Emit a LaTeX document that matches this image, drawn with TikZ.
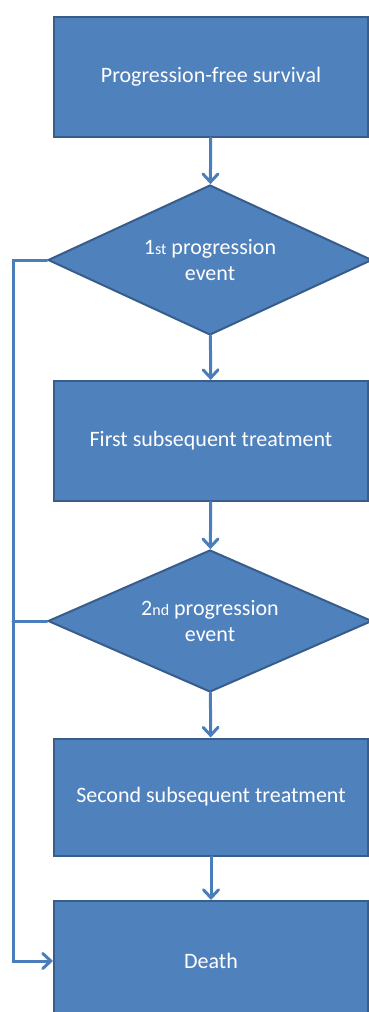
\documentclass[tikz,border=0pt]{standalone}
\usepackage{fontspec}
\setmainfont{Carlito}
\usetikzlibrary{shapes.geometric,arrows.meta}
\definecolor{boxblue}{HTML}{4F81BD}
\definecolor{boxedge}{HTML}{385D8A}
\definecolor{linkblue}{HTML}{4A7EBB}
\newcommand{\smallord}[1]{{\fontsize{16}{16}\selectfont #1}}
\begin{document}
\begin{tikzpicture}[x=1pt,y=-1pt,line cap=round,
  stepbox/.style={draw=boxedge,line width=2pt,fill=boxblue,text=white,minimum width=314pt,minimum height=120pt,font=\fontsize{22}{26.4}\selectfont},
  decision/.style={diamond,aspect=2.16,inner sep=0pt,draw=boxedge,line width=2pt,fill=boxblue,text=white,minimum width=324pt,minimum height=150pt,align=center,font=\fontsize{22}{26.4}\selectfont},
  link/.style={draw=linkblue,line width=3pt,-{Straight Barb[length=8pt,width=15pt,line cap=round]}}]
\useasboundingbox (0,0) rectangle (369,1012);
\node[stepbox] (pfs) at (211,77) {Progression-free survival};
\node[decision] (ev1) at (210,260) {1\smallord{st} progression\\event};
\node[stepbox] (sub1) at (211,441) {First subsequent treatment};
\node[decision,minimum height=142pt] (ev2) at (210,621) {2\smallord{nd} progression\\event};
\node[stepbox,minimum height=117pt] (sub2) at (211,797) {Second subsequent treatment};
\node[stepbox] (death) at (211,961) {Death};
\coordinate (bus) at (13,260);
\draw[link] (pfs) -- (ev1); \draw[link] (ev1) -- (sub1); \draw[link] (sub1) -- (ev2);
\draw[link] (ev2) -- (sub2); \draw[link] (sub2) -- (death);
\draw[link] (ev1.west) -- (bus) |- (death.west);
\draw[draw=linkblue,line width=3pt] (ev2.west) -- (ev2.west -| bus);
\end{tikzpicture}
\end{document}
